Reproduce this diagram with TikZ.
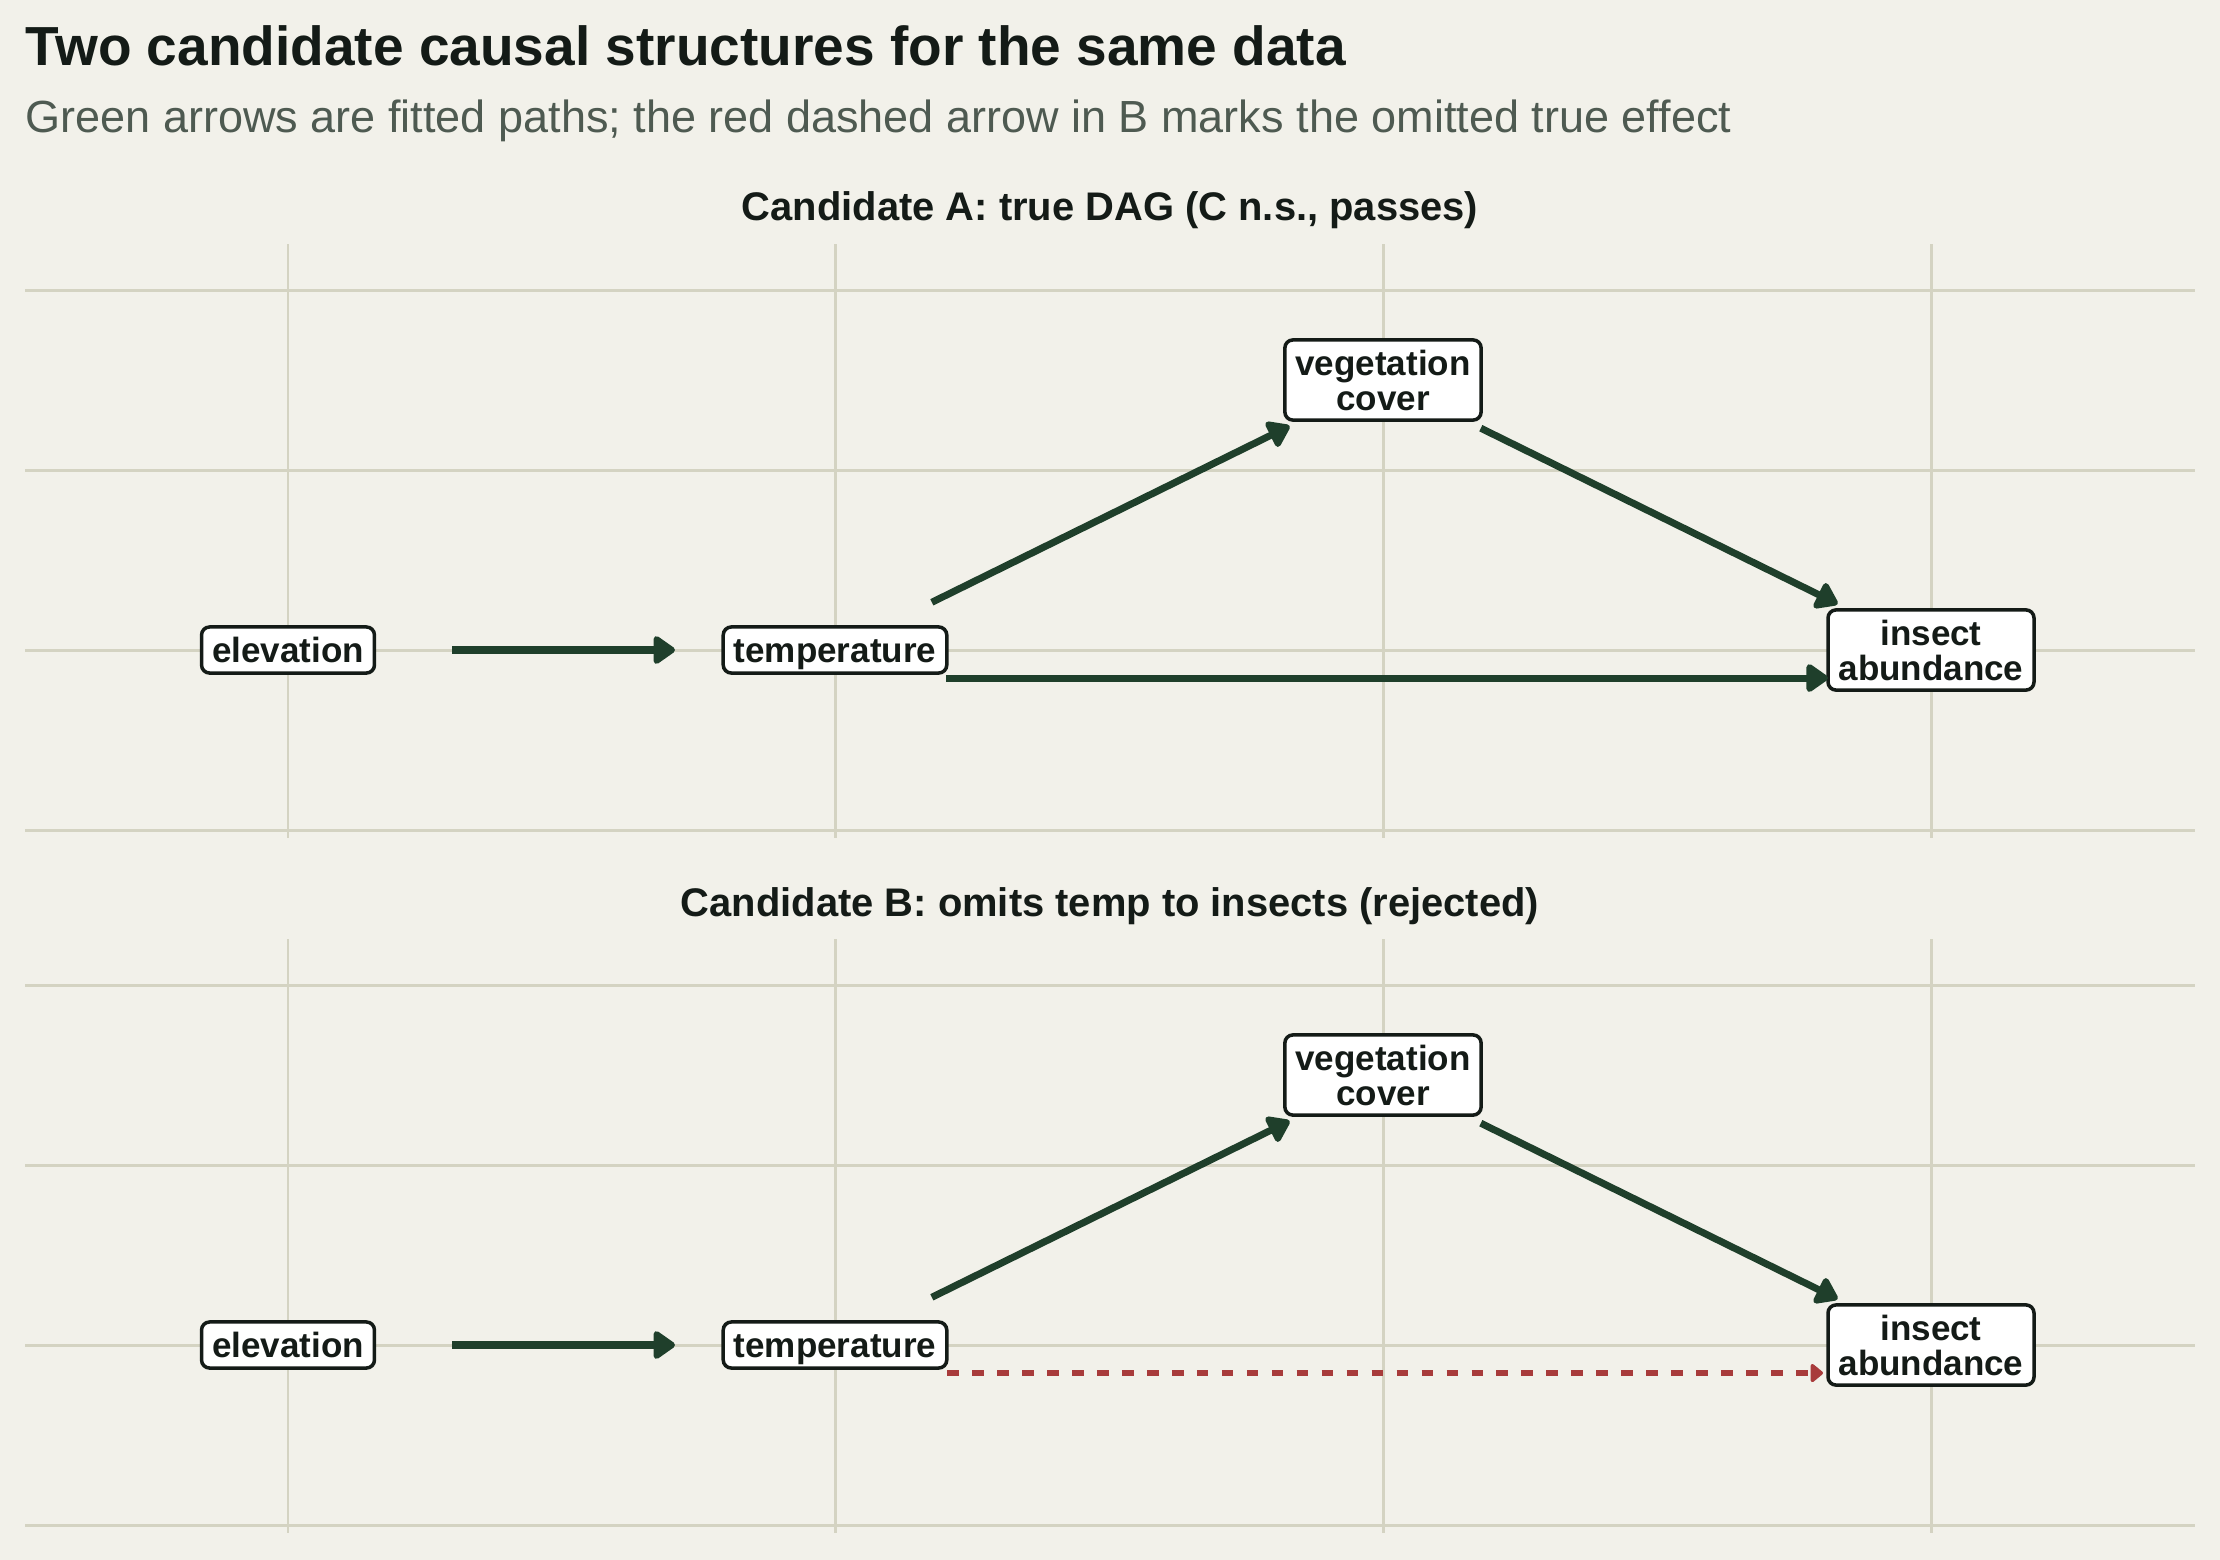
\documentclass[tikz,border=0pt]{standalone}
\usepackage{fontspec}
\setmainfont{Liberation Sans}
\usetikzlibrary{arrows.meta}
\definecolor{bg}{HTML}{F2F1EA}
\definecolor{gridc}{HTML}{D4D3C2}
\definecolor{ink}{HTML}{141B17}
\definecolor{subc}{HTML}{4E5A51}
\definecolor{fitc}{HTML}{1F3F2B}
\definecolor{omitc}{HTML}{A83B3B}
\begin{document}
\begin{tikzpicture}[x=0.01cm,y=-0.01cm,
  gridline/.style={draw=gridc, line width=0.85pt},
  var/.style={draw=ink, line width=1pt, fill=white, rounded corners=2.3pt,
    inner xsep=3pt, inner ysep=0pt, text=ink, align=center,
    font=\bfseries\fontsize{9.96pt}{9.96pt}\selectfont},
  oneline/.style={text height=10.1pt, text depth=3pt},
  twoline/.style={minimum height=22.8pt},
  fitarrow/.style={draw=fitc, line width=2pt, -{Triangle[length=6.8pt,width=9pt,round]}},
  omitarrow/.style={draw=omitc, line width=1.5pt, dash pattern=on 3.3pt off 3.8pt,
    -{Triangle[length=3.8pt,width=6pt,round]}},
  ttl/.style={inner sep=0pt, text=ink},
]
\useasboundingbox (0,0) rectangle (2220,1560);
\fill[bg] (0,0) rectangle (2220,1560);

% titles
\node[ttl, anchor=base west, font=\bfseries\fontsize{15.65pt}{18pt}\selectfont] (title) at (25,65)
  {Two candidate causal structures for the same data};
\node[inner sep=0pt, text=subc, anchor=base west, font=\fontsize{12.8pt}{15pt}\selectfont] (subtitle) at (25,132)
  {Green arrows are fitted paths; the red dashed arrow in B marks the omitted true effect};
\node[ttl, anchor=base, font=\bfseries\fontsize{11.35pt}{13pt}\selectfont] (titleA) at (1110,220)
  {Candidate A: true DAG (C n.s., passes)};
\node[ttl, anchor=base, font=\bfseries\fontsize{11.35pt}{13pt}\selectfont] (titleB) at (1110,916)
  {Candidate B: omits temp to insects (rejected)};

% grids
\foreach \off in {0,695}{
  \foreach \y in {290,470,650,830}
    \draw[gridline] (25,\y+\off) -- (2195,\y+\off);
  \foreach \x in {288,835,1383,1931}
    \draw[gridline] (\x,244+\off) -- (\x,838+\off);
}

% panel A
\node[var,oneline] (eA) at (288,650) {elevation};
\node[var,oneline] (tA) at (835,650) {temperature};
\node[var,twoline] (vA) at (1383,380) {vegetation\\cover};
\node[var,twoline] (iA) at (1931,650) {insect\\abundance};

\draw[fitarrow, shorten <=46.7pt, shorten >=45.5pt] (eA.center) -- (tA.center);
\draw[fitarrow, shorten <=30.7pt, shorten >=29.6pt] (tA.center) -- (vA.center);
\draw[fitarrow, shorten <=31pt, shorten >=29.6pt] (vA.center) -- (iA.center);
\draw[fitarrow, shorten <=31.6pt, shorten >=29.3pt] ([yshift=-7.97pt]tA.center) -- ([yshift=-7.97pt]iA.center);

% panel B
\node[var,oneline] (eB) at (288,1345) {elevation};
\node[var,oneline] (tB) at (835,1345) {temperature};
\node[var,twoline] (vB) at (1383,1075) {vegetation\\cover};
\node[var,twoline] (iB) at (1931,1345) {insect\\abundance};

\draw[fitarrow, shorten <=46.7pt, shorten >=45.5pt] (eB.center) -- (tB.center);
\draw[fitarrow, shorten <=30.7pt, shorten >=29.6pt] (tB.center) -- (vB.center);
\draw[fitarrow, shorten <=31pt, shorten >=29.6pt] (vB.center) -- (iB.center);
\draw[omitarrow, shorten <=31.9pt, shorten >=30.7pt] ([yshift=-7.97pt]tB.center) -- ([yshift=-7.97pt]iB.center);
\end{tikzpicture}
\end{document}
